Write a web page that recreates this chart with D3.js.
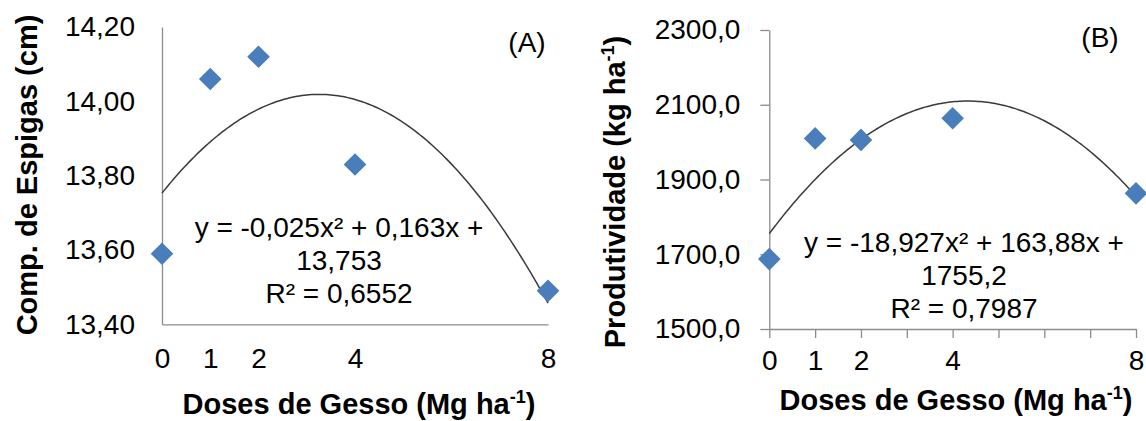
<!DOCTYPE html>
<html>
<head>
<meta charset="utf-8">
<script src="https://cdn.jsdelivr.net/npm/d3@7"></script>
<style>
    body { margin: 0; background: white; }
    svg { display: block; font-family: "Liberation Sans", Arial, sans-serif; }
</style>
</head>
<body>
<svg id="chart" width="1146" height="421"></svg>
<script>
const doses = [0, 1, 2, 4, 8];
const comprimento = [13.59, 14.06, 14.12, 13.83, 13.49];
const produtividade = [1687, 2010, 2006, 2064, 1863];

const comprimentoTicks = [13.4, 13.6, 13.8, 14.0, 14.2];
const produtividadeTicks = [1500, 1700, 1900, 2100, 2300];
const dosesTicks = [0, 1, 2, 4, 8];

// trendline coefficients: c0 + c1*x + c2*x^2
const coefA = [13.753, 0.163, -0.025];
const coefB = [1755.2, 163.88, -18.927];

const equacaoA = ["y = -0,025x² + 0,163x +", "13,753", "R² = 0,6552"];
const equacaoB = ["y = -18,927x² + 163,88x +", "1755,2", "R² = 0,7987"];

const locale = d3.formatLocale({ decimal: ",", thousands: "", grouping: [3], currency: ["", ""] });

const svg = d3.select("#chart");

// title parts: [text, superscript?]
const addTitle = (g, x, y, rotate, parts) => {
    const t = g.append("text")
        .attr("transform", `translate(${x},${y})rotate(${rotate})`)
        .attr("text-anchor", "middle")
        .attr("font-size", 29)
        .attr("font-weight", "bold")
        .attr("fill", "#000");
    let shifted = false;
    parts.forEach(([txt, sup]) => {
        const s = t.append("tspan").text(txt);
        if (sup && !shifted) { s.attr("font-size", 18).attr("dy", -11); shifted = true; }
        else if (!sup && shifted) { s.attr("dy", 11); shifted = false; }
    });
};

const setupPanel = (p) => {
    const g = svg.append("g");

    const x = d3.scaleLinear().domain([0, 8]).range(p.xRange);
    const y = d3.scaleLinear().domain(d3.extent(p.yTicks)).range(p.yRange);

    // y axis
    const yAxis = g.append("g")
        .attr("transform", `translate(${p.xRange[0]},0)`)
        .call(d3.axisLeft(y).tickValues(p.yTicks).tickFormat(locale.format(p.fmt))
            .tickSize(p.tickSize).tickPadding(p.yPad).tickSizeOuter(0));

    // x axis
    const xAxis = g.append("g")
        .attr("transform", `translate(0,${p.yRange[0]})`)
        .call(d3.axisBottom(x).tickValues(p.xTickMarks).tickFormat(d => dosesTicks.includes(d) ? d : "")
            .tickSize(p.tickSize).tickPadding(p.xPad).tickSizeOuter(0));

    [yAxis, xAxis].forEach(a => {
        a.select(".domain").attr("stroke", "#8c8c8c").attr("stroke-width", 1.3);
        a.selectAll(".tick line").attr("stroke", "#8c8c8c").attr("stroke-width", 1.3);
        a.selectAll("text").attr("font-size", 28).attr("fill", "#000")
            .attr("font-family", "Liberation Sans, Arial, sans-serif");
    });

    // trendline
    const xs = d3.range(0, 8.001, 0.05);
    const line = d3.line()
        .x(d => x(d))
        .y(d => y(p.coef[0] + p.coef[1] * d + p.coef[2] * d * d));
    g.append("path")
        .datum(xs)
        .attr("d", line)
        .attr("fill", "none")
        .attr("stroke", "#3a3a3a")
        .attr("stroke-width", 1.5);

    // points
    g.selectAll("path.point")
        .data(doses.map((d, i) => [d, p.values[i]]))
        .join("path")
        .attr("class", "point")
        .attr("d", d3.symbol().type(d3.symbolSquare).size(256))
        .attr("transform", d => `translate(${x(d[0])},${y(d[1])})rotate(45)`)
        .attr("fill", "#4a7ebb");

    // equation
    g.append("g").selectAll("text")
        .data(p.equation)
        .join("text")
        .attr("x", p.eqX)
        .attr("y", (d, i) => p.eqY + i * 33)
        .attr("text-anchor", "middle")
        .attr("font-size", 28)
        .attr("fill", "#000")
        .text(d => d);

    // panel label
    g.append("text")
        .attr("x", p.labelX)
        .attr("y", p.labelY)
        .attr("text-anchor", "middle")
        .attr("font-size", 28)
        .attr("fill", "#000")
        .text(p.label);

    addTitle(g, p.ytX, p.ytY, -90, p.yTitle);
    addTitle(g, p.xtX, p.xtY, 0, [["Doses de Gesso (Mg ha"], ["-1", true], [")"]]);
};

setupPanel({
    xRange: [162, 548], yRange: [324.3, 27],
    yTicks: comprimentoTicks, fmt: ".2f", values: comprimento, coef: coefA,
    tickSize: 0, yPad: 27, xPad: 24, xTickMarks: dosesTicks,
    equation: equacaoA, eqX: 339, eqY: 237,
    label: "(A)", labelX: 527, labelY: 52,
    yTitle: [["Comp. de Espigas (cm)"]], ytX: 37, ytY: 175,
    xtX: 359, xtY: 414
});

setupPanel({
    xRange: [769.3, 1136], yRange: [329, 30],
    yTicks: produtividadeTicks, fmt: ".1f", values: produtividade, coef: coefB,
    tickSize: 9, yPad: 20, xPad: 12, xTickMarks: d3.range(0, 9),
    equation: equacaoB, eqX: 964, eqY: 252,
    label: "(B)", labelX: 1100, labelY: 47,
    yTitle: [["Produtividade (kg ha"], ["-1", true], [")"]], ytX: 625, ytY: 192,
    xtX: 956, xtY: 410
});
</script>
</body>
</html>
